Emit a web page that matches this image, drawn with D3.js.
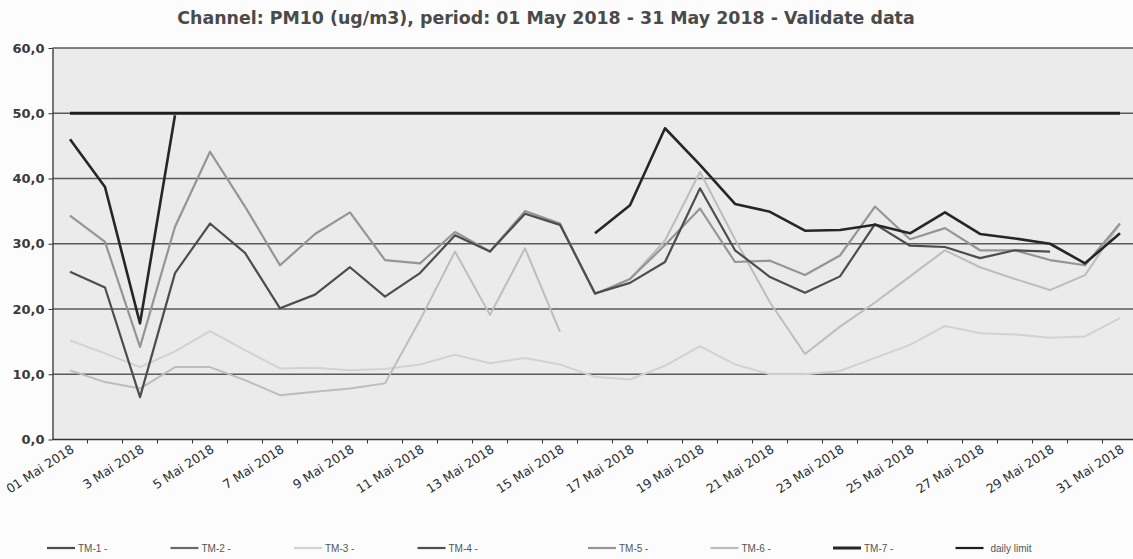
<!DOCTYPE html>
<html>
<head>
<meta charset="utf-8">
<script src="https://cdn.jsdelivr.net/npm/d3@7/dist/d3.min.js"></script>
<style>
  html, body { margin: 0; padding: 0; background: #fcfcfc; }
  svg { display: block; }
</style>
</head>
<body>
<svg id="chart" width="1133" height="559"></svg>
<script>
// ---------- data ----------
const days = d3.range(1, 32).map(d => (d < 10 ? "0" + d : "" + d) + " Mai 2018");
const dayLabels = days.map((d, i) => i === 0 ? d : d.replace(/^0/, ""));
const yTicks = [0, 10, 20, 30, 40, 50, 60];
const seriesNames = ["TM-1 -", "TM-2 -", "TM-3 -", "TM-4 -", "TM-5 -", "TM-6 -", "TM-7 -", "daily limit"];

const tm1 = [25.7, 23.3, 6.5, 25.5, 33.1, 28.6, 20.1, 22.2, 26.4, 21.9, 25.5, 31.3, 28.8, 34.6, 32.9,
             22.4, 24.0, 27.2, 38.5, 29.0, 24.9, 22.5, 25.0, 33.0, 29.7, 29.5, 27.8, 29.0, 28.8, null, null];
const tm2 = days.map(() => null);
const tm3 = [15.2, 13.2, 11.1, 13.5, 16.6, 13.7, 10.9, 11.0, 10.6, 10.8, 11.5, 13.0, 11.7, 12.5, 11.5,
             9.6, 9.2, 11.3, 14.3, 11.5, 10.0, 10.0, 10.5, 12.5, 14.5, 17.4, 16.3, 16.1, 15.6, 15.8, 18.6];
const tm4 = days.map(() => null);
const tm5 = [34.3, 30.3, 14.2, 32.6, 44.1, 35.7, 26.7, 31.5, 34.8, 27.5, 27.0, 31.8, 28.8, 35.0, 33.1,
             22.3, 24.6, 29.8, 35.4, 27.2, 27.4, 25.2, 28.2, 35.7, 30.7, 32.4, 29.0, 29.0, 27.5, 26.7, 33.1];
const tm6 = [10.6, 8.8, 7.8, 11.1, 11.1, 9.1, 6.8, 7.3, 7.8, 8.6, 18.3, 28.8, 19.1, 29.3, 16.5,
             null, 24.6, 30.5, 41.0, 30.7, 21.0, 13.1, 17.3, 21.0, 25.0, 29.0, 26.4, 24.6, 22.9, 25.2, 33.1];
const tm7 = [46.0, 38.7, 17.8, 49.7, null, null, null, null, null, null, null, null, null, null, null,
             31.6, 35.9, 47.7, 42.1, 36.1, 34.9, 32.0, 32.1, 32.9, 31.6, 34.8, 31.5, 30.8, 30.0, 27.0, 31.6];
const dailyLimit = days.map(() => 50);

// ---------- styles ----------
const seriesData = [tm1, tm2, tm3, tm4, tm5, tm6, tm7, dailyLimit];
const colors = ["#4d4d4d", "#6a6a6a", "#d2d2d2", "#505050", "#959595", "#bdbdbd", "#262626", "#1e1e1e"];
const widths = [2.2, 2.2, 2, 2.2, 2.2, 2, 2.6, 3];
const drawOrder = [2, 5, 4, 3, 1, 0, 6, 7];

// ---------- layout ----------
const svg = d3.select("#chart");
const margin = { left: 52.5, top: 48, bottom: 439.5 };
const x = d3.scaleBand().domain(days).range([margin.left, margin.left + 31 * 35]).padding(0);
const y = d3.scaleLinear().domain([0, 60]).range([margin.bottom, margin.top]);
const cx = d => x(d) + x.bandwidth() / 2;

// plot background
svg.append("rect")
  .attr("x", margin.left).attr("y", margin.top)
  .attr("width", 1133 - margin.left).attr("height", margin.bottom - margin.top)
  .attr("fill", "#ebebeb");

// title
svg.append("text")
  .attr("x", 546).attr("y", 24)
  .attr("text-anchor", "middle")
  .attr("font-family", "DejaVu Sans, Verdana, sans-serif")
  .attr("font-weight", "bold")
  .attr("font-size", 17.4)
  .attr("fill", "#4a4a4a")
  .text("Channel: PM10 (ug/m3), period: 01 May 2018 - 31 May 2018 - Validate data");

// grid lines
svg.append("g").selectAll("line")
  .data(yTicks.filter(v => v > 0))
  .join("line")
  .attr("x1", margin.left).attr("x2", 1133)
  .attr("y1", d => y(d)).attr("y2", d => y(d))
  .attr("stroke", "#5a5a5a").attr("stroke-width", 1.3);

// y axis
const yAxis = svg.append("g")
  .attr("transform", `translate(${margin.left},0)`)
  .call(d3.axisLeft(y).tickValues(yTicks).tickSize(4).tickSizeOuter(0)
    .tickFormat(d => d3.format(".1f")(d).replace(".", ",")));
yAxis.select(".domain").attr("stroke", "#333").attr("stroke-width", 1.3);
yAxis.selectAll(".tick line").attr("stroke", "#333");
yAxis.selectAll("text")
  .attr("font-family", "DejaVu Sans, Verdana, sans-serif")
  .attr("font-weight", "bold")
  .attr("font-size", 13)
  .attr("fill", "#3a3a3a")
  .attr("x", -8);

// x axis baseline
svg.append("line")
  .attr("x1", margin.left).attr("x2", 1133)
  .attr("y1", y(0)).attr("y2", y(0))
  .attr("stroke", "#333").attr("stroke-width", 1.3);

// x boundary ticks
svg.append("g").selectAll("line")
  .data(days)
  .join("line")
  .attr("x1", d => x(d) + x.step()).attr("x2", d => x(d) + x.step())
  .attr("y1", y(0)).attr("y2", y(0) + 4)
  .attr("stroke", "#333").attr("stroke-width", 1);

// x labels (every other day)
svg.append("g").selectAll("text")
  .data(days.filter((d, i) => i % 2 === 0))
  .join("text")
  .attr("transform", d => `translate(${cx(d) + 5},${y(0) + 12}) rotate(-33)`)
  .attr("text-anchor", "end")
  .attr("font-family", "DejaVu Sans, Verdana, sans-serif")
  .attr("font-size", 12.5)
  .attr("fill", "#2e2e2e")
  .text(d => dayLabels[days.indexOf(d)]);

// lines
const line = d3.line()
  .defined(d => d.v != null)
  .x(d => cx(d.day))
  .y(d => y(d.v));

svg.append("g").selectAll("path")
  .data(drawOrder)
  .join("path")
  .attr("d", i => line(days.map((day, j) => ({ day, v: seriesData[i][j] }))))
  .attr("fill", "none")
  .attr("stroke", i => colors[i])
  .attr("stroke-width", i => widths[i])
  .attr("stroke-linejoin", "round");

// legend
const legendX = seriesNames.map((n, i) => i < 4 ? 47 + i * 123.5 : 588 + (i - 4) * 122.5);
const lg = svg.append("g").selectAll("g")
  .data(seriesNames)
  .join("g")
  .attr("transform", (d, i) => `translate(${legendX[i]},548)`);
lg.append("line")
  .attr("x1", 0).attr("x2", 28)
  .attr("stroke", (d, i) => colors[i])
  .attr("stroke-width", (d, i) => i === 6 ? 3 : 2.2);
lg.append("text")
  .attr("x", (d, i) => i === 7 ? 35 : 31)
  .attr("y", 4)
  .attr("font-family", "Liberation Sans, Arial, sans-serif")
  .attr("font-size", 10)
  .attr("fill", "#555")
  .text(d => d);
</script>
</body>
</html>
